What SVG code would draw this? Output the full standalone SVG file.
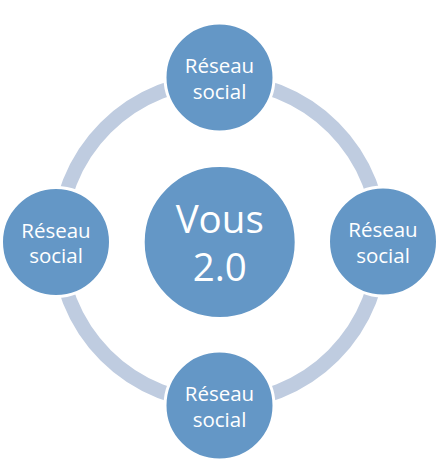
<svg xmlns="http://www.w3.org/2000/svg" width="441" height="466" viewBox="0 0 441 466">
<style>
.node{fill:#6497C6;stroke:#FFFFFF;stroke-width:3}
.lbl{font-family:"Open Sans","Noto Sans",sans-serif;font-size:20.5px;fill:#FFFFFF;text-anchor:middle}
.big{font-family:"Open Sans","Noto Sans",sans-serif;font-size:38.5px;fill:#FFFFFF;text-anchor:middle}
</style>
<rect width="441" height="466" fill="#FFFFFF"/>
<g id="connectors">
<circle cx="219.5" cy="241.5" r="161" fill="none" stroke="#BFCCE0" stroke-width="14.5"/>
</g>
<g id="center">
<circle class="node" cx="219.7" cy="242" r="76.5"/>
<text class="big" x="219.7" y="233.3">Vous</text>
<text class="big" x="219.7" y="280.7">2.0</text>
</g>
<g id="node-top">
<circle class="node" cx="219.5" cy="77.5" r="54.5"/>
<text class="lbl" x="219.5" y="73">Réseau</text>
<text class="lbl" x="219.5" y="98.5">social</text>
</g>
<g id="node-right">
<circle class="node" cx="383" cy="241.5" r="54.5"/>
<text class="lbl" x="383" y="237">Réseau</text>
<text class="lbl" x="383" y="262.5">social</text>
</g>
<g id="node-bottom">
<circle class="node" cx="219.5" cy="405.5" r="54.5"/>
<text class="lbl" x="219.5" y="401">Réseau</text>
<text class="lbl" x="219.5" y="426.5">social</text>
</g>
<g id="node-left">
<circle class="node" cx="56" cy="242" r="54.5"/>
<text class="lbl" x="56" y="237.5">Réseau</text>
<text class="lbl" x="56" y="263">social</text>
</g>
</svg>
